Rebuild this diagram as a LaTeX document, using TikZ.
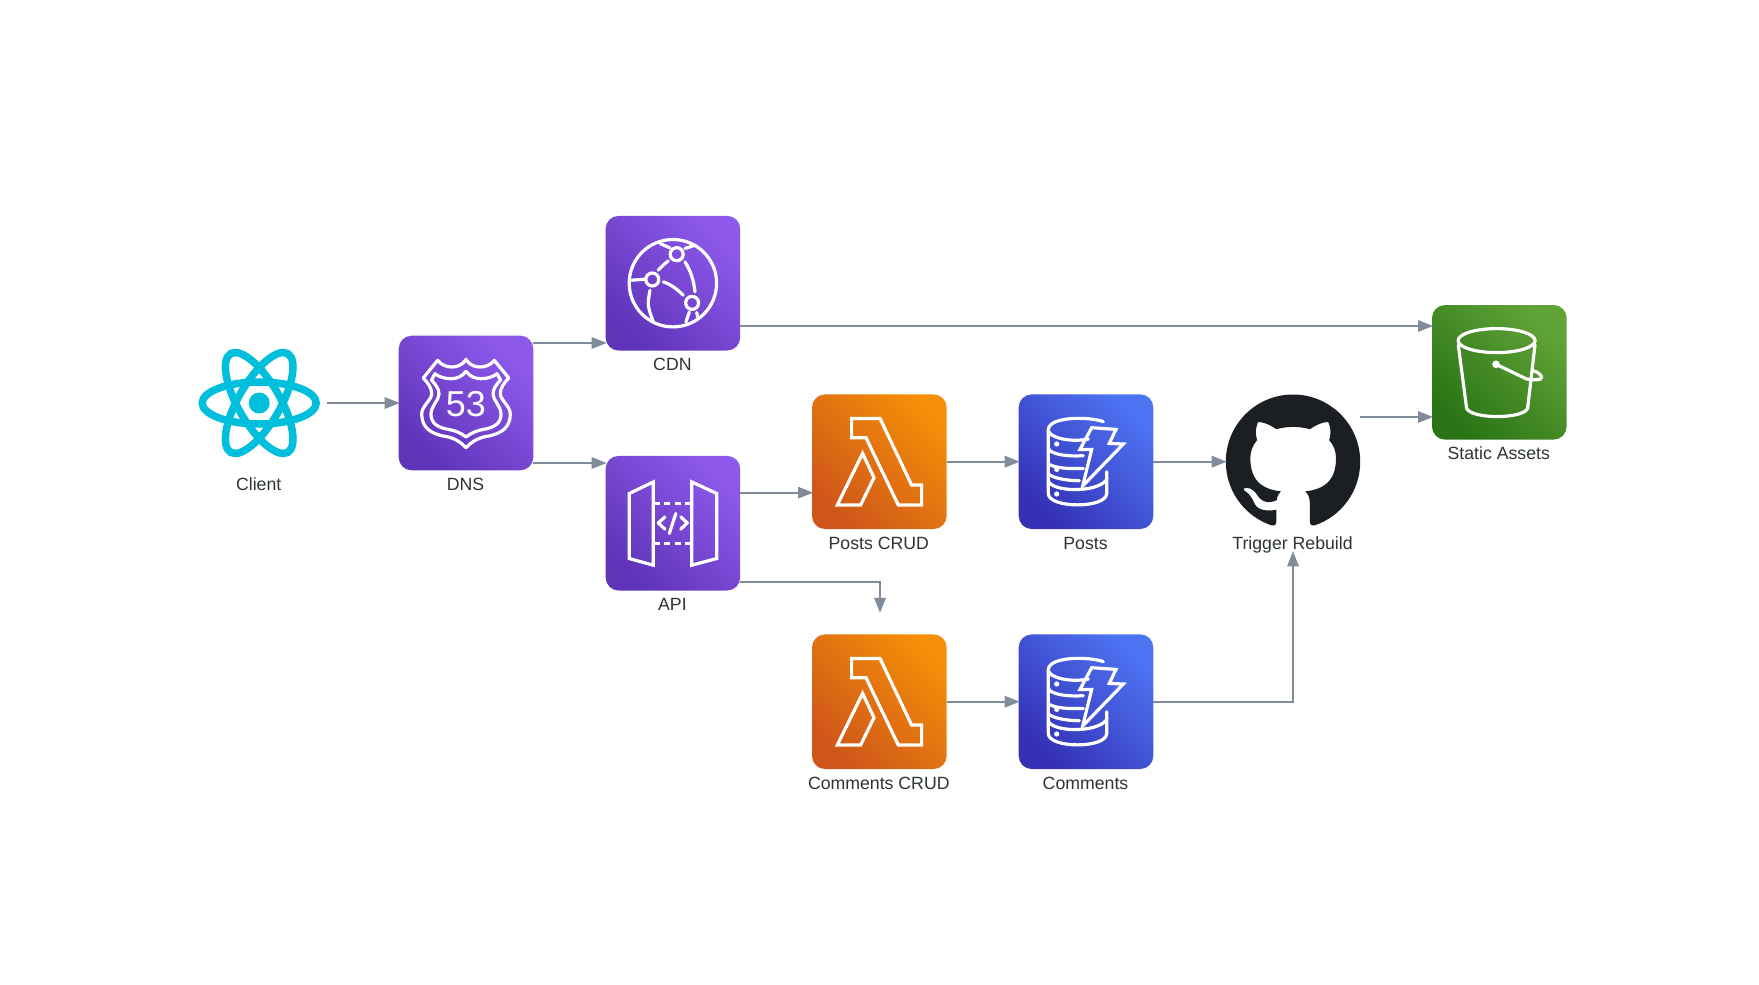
\documentclass[tikz,border=0pt]{standalone}
\usepackage{fontspec}
\setmainfont{Liberation Sans}
\usetikzlibrary{arrows.meta,calc}
\definecolor{purpled}{HTML}{5F34B9}\definecolor{purplel}{HTML}{8E59EB}
\definecolor{oranged}{HTML}{CE561A}\definecolor{orangel}{HTML}{F58E08}
\definecolor{blued}{HTML}{3530B5}\definecolor{bluel}{HTML}{4D74F3}
\definecolor{greend}{HTML}{2A7416}\definecolor{greenl}{HTML}{60A337}
\definecolor{wire}{HTML}{808C99}
\definecolor{labelc}{HTML}{2D3436}
\definecolor{ghdark}{HTML}{1B1F24}
\definecolor{reactc}{HTML}{00BFDC}
\tikzset{
  cell/.style={minimum size=134.6pt,inner sep=0pt,outer sep=0pt,draw=none},
  caption/.style={anchor=base,text=labelc,inner sep=0pt,xshift=-0.5pt,font=\fontsize{17.7pt}{20pt}\selectfont},
  wirearrow/.style={draw=wire,line width=1.6pt,shorten >=-1pt,-{Triangle[length=15pt,width=11.5pt]}},
  icon/.style={draw=white,line width=3.2pt,line join=round,line cap=round},
}
\newcommand{\tile}[5]{% name, center, dark, light, icon
  \node[cell] (#1) at (#2) {};
  \begin{scope}[shift={(#1.center)}]
    \shade[rounded corners=13pt,left color=#4,right color=#3,shading angle=-45]
      (-67.3,-67.3) rectangle (67.3,67.3);
    #5
  \end{scope}}
\newcommand{\iconlambda}{%
  \draw[icon,line join=miter] (-27.7,-43.3) -- (0.7,-43.3) -- (32.3,23.3) -- (42.3,23.3) -- (42.3,43.3) -- (19,43.3) -- (-13.3,-24) -- (-27.7,-24) -- cycle;
  \draw[icon,line join=miter] (-16.7,-8.3) -- (-5.3,16) -- (-18.7,43.3) -- (-42,43.3) -- cycle;}
\newcommand{\icondynamo}{%
  \draw[icon] (17.3,-40) .. controls (5,-45) and (-37.7,-46) .. (-37.7,-31.7) -- (-37.7,31.7) .. controls (-37.7,47) and (20.7,47) .. (20.7,31.7) -- (20.7,10);
  \draw[icon] (-37.7,-31.7) .. controls (-37.7,-24) and (-15,-19) .. (2.3,-22.7);
  \draw[icon] (-37.7,-13.3) .. controls (-35,-7) and (-18,-5) .. (-2.7,-6);
  \draw[icon] (-37.7,1.7) .. controls (-34,6) and (-18,7.5) .. (-2.7,6.7);
  \draw[icon] (-37.7,11.7) .. controls (-35,16) and (-20,19) .. (-6.7,19);
  \draw[icon] (-37.7,19) .. controls (-35,30) and (10,32) .. (20.7,18);
  \fill[white] (-29.3,-17.7) circle (2.6) (-29.3,7.7) circle (2.6) (-29.3,32.3) circle (2.6);
  \draw[icon,fill=none,line join=miter] (5.7,-34) -- (30,-32.3) -- (23.3,-18.3) -- (37.3,-17.7) -- (-3.3,24.3) -- (5.7,-12.3) -- (-6,-12.3) -- cycle;}
\begin{document}
\begin{tikzpicture}[x=1pt,y=-1pt]
\useasboundingbox (0,0) rectangle (1759,985);
\fill[white] (0,0) rectangle (1759,985);

% React
\node[cell] (client) at (259.2,403) {};
\begin{scope}[shift={(client.center)}]
  \foreach \a in {0,60,120}
    \draw[draw=reactc,line width=7.5pt,rotate=\a] (0,0) ellipse (57 and 21);
  \fill[reactc] (0,0) circle (10.5);
\end{scope}

% Route 53
\tile{dns}{466,403}{purpled}{purplel}{%
  \foreach \sx in {1,-1}{
    \draw[icon,xscale=\sx] (0,-43.7) .. controls (4,-37) and (10,-36) .. (14.3,-36) .. controls (19,-36) and (25,-38) .. (28.3,-42.7) -- (42.7,-25) .. controls (38,-20) and (34.3,-15) .. (34.3,-9.3) .. controls (34.3,-3) and (44.3,3) .. (44.3,11) .. controls (44.3,24) and (36,31) .. (20,33.5) .. controls (12,35) and (5,39) .. (0,44.7);
    \draw[icon,xscale=\sx] (0,-31.7) .. controls (4,-26) and (10,-24.3) .. (15,-24.3) .. controls (21,-24.3) and (27,-26) .. (31,-29.3) -- (34.5,-23) .. controls (30,-18) and (27,-14) .. (27,-9) .. controls (27,-3) and (35,3) .. (35,11) .. controls (35,20) and (29,24.5) .. (17,26.5) .. controls (11,27.5) and (5,30) .. (0,34);
  }
  \node[text=white,inner sep=0pt,font=\fontsize{36pt}{36pt}\selectfont] (shieldnum) at (0,1.5) {53};
}

% CloudFront
\tile{cdn}{672.9,283.2}{purpled}{purplel}{%
  \draw[icon] (0,0) circle (43.7);
  \draw[icon] (3.8,-29) circle (6.5) (-20.6,-3.7) circle (6.5) (19.2,19.7) circle (6.5);
  \draw[icon] (-12.9,-39.7) -- (-2.9,-35.3);
  \draw[icon] (12.1,-34.7) -- (22.1,-38);
  \draw[icon] (-41.2,-3) -- (-27.9,-4);
  \draw[icon] (-22.9,7) .. controls (-25.6,22) .. (-19.6,38.7);
  \draw[icon] (-9.6,-1.3) .. controls (-2,1) and (4,6) .. (10.4,12);
  \draw[icon] (12.1,-21.3) .. controls (18,-12) and (21,-2) .. (22.1,8.7);
  \draw[icon] (-4.6,-22.3) .. controls (-9,-19) and (-12,-16) .. (-14.6,-13);
  \draw[icon] (16.4,28.7) -- (13.1,38.7);
  \draw[icon] (23.8,29.3) -- (24.8,33.7);
}

% API Gateway
\tile{api}{672.9,523.2}{purpled}{purplel}{%
  \draw[icon,line join=miter] (-43.6,-29.7) -- (-19.6,-41.3) -- (-19.6,42) -- (-43.6,35.3) -- cycle;
  \draw[icon,line join=miter] (18.8,-41.3) -- (43.8,-29.7) -- (43.8,35.3) -- (18.8,42) -- cycle;
  \foreach \yy in {-19.7,20.3}{
    \draw[icon,line cap=butt] (-17.5,\yy) -- (-13,\yy) (-9,\yy) -- (-3,\yy) (2,\yy) -- (8,\yy) (12,\yy) -- (17.5,\yy);
  }
  \draw[icon] (-7.9,-6.3) -- (-14.6,-0.3) -- (-7.9,6);
  \draw[icon] (7.8,-6.3) -- (14.4,-0.3) -- (7.8,6);
  \draw[icon] (3,-9.7) -- (-3.6,10.3);
}

\tile{postsfn}{879.3,461.7}{oranged}{orangel}{\iconlambda}
\tile{commentsfn}{879.3,701.7}{oranged}{orangel}{\iconlambda}
\tile{postsdb}{1086,461.7}{blued}{bluel}{\icondynamo}
\tile{commentsdb}{1086,701.7}{blued}{bluel}{\icondynamo}

% GitHub
\node[cell] (gh) at (1293,461.7) {};
\begin{scope}[shift={(gh.center)},x=8.4pt,y=-8.4pt,shift={(-8,-8)}]
\fill[ghdark] (8,0) .. controls (3.58,0) and (0,3.58) .. (0,8)
 .. controls (0,11.54) and (2.29,14.53) .. (5.47,15.59)
 .. controls (5.87,15.66) and (6.02,15.42) .. (6.02,15.21)
 .. controls (6.02,15.02) and (6.01,14.39) .. (6.01,13.72)
 .. controls (4.00,14.09) and (3.48,13.23) .. (3.32,12.78)
 .. controls (3.23,12.55) and (2.84,11.84) .. (2.50,11.65)
 .. controls (2.22,11.50) and (1.82,11.13) .. (2.49,11.12)
 .. controls (3.12,11.11) and (3.57,11.70) .. (3.72,11.94)
 .. controls (4.44,13.15) and (5.59,12.81) .. (6.05,12.60)
 .. controls (6.12,12.08) and (6.33,11.73) .. (6.56,11.53)
 .. controls (4.78,11.33) and (2.92,10.64) .. (2.92,7.58)
 .. controls (2.92,6.71) and (3.23,5.99) .. (3.74,5.43)
 .. controls (3.66,5.23) and (3.38,4.41) .. (3.82,3.31)
 .. controls (3.82,3.31) and (4.49,3.10) .. (6.02,4.13)
 .. controls (6.66,3.95) and (7.34,3.86) .. (8.02,3.86)
 .. controls (8.70,3.86) and (9.38,3.95) .. (10.02,4.13)
 .. controls (11.55,3.09) and (12.22,3.31) .. (12.22,3.31)
 .. controls (12.66,4.41) and (12.38,5.23) .. (12.30,5.43)
 .. controls (12.81,5.99) and (13.12,6.70) .. (13.12,7.58)
 .. controls (13.12,10.65) and (11.25,11.33) .. (9.47,11.53)
 .. controls (9.76,11.78) and (10.01,12.26) .. (10.01,13.01)
 .. controls (10.01,14.08) and (10.00,14.94) .. (10.00,15.21)
 .. controls (10.00,15.42) and (10.15,15.67) .. (10.55,15.59)
 .. controls (13.73,14.53) and (16,11.53) .. (16,8)
 .. controls (16,3.58) and (12.42,0) .. (8,0) -- cycle;
\end{scope}

% S3
\tile{s3}{1499.3,372.3}{greend}{greenl}{%
  \draw[icon] (-2.7,-31.7) ellipse (38.5 and 12);
  \draw[icon] (-41,-27.3) -- (-32.7,36) .. controls (-28,47) and (24,47) .. (28.3,36) -- (35.7,-27.3);
  \fill[white] (-3.3,-8) circle (3.8);
  \draw[icon] (-3.3,-8) -- (27.3,6.7) .. controls (33,8) and (43,8) .. (42.3,5) .. controls (42,2) and (37,-1) .. (33.3,-1.7);
}

% labels
\node[caption] (clientl) at ($(client.south)+(0,20.3)$) {Client};
\node[caption] (dnsl) at ($(dns.south)+(0,20.3)$) {DNS};
\node[caption] (cdnl) at ($(cdn.south)+(0,20.3)$) {CDN};
\node[caption] (apil) at ($(api.south)+(0,20.3)$) {API};
\node[caption] (postsfnl) at ($(postsfn.south)+(0,20.3)$) {Posts CRUD};
\node[caption] (postsdbl) at ($(postsdb.south)+(0,20.3)$) {Posts};
\node[caption] (ghl) at ($(gh.south)+(0,20.3)$) {Trigger Rebuild};
\node[caption] (commentsfnl) at ($(commentsfn.south)+(0,20.3)$) {Comments CRUD};
\node[caption] (commentsdbl) at ($(commentsdb.south)+(0,20.3)$) {Comments};
\node[caption] (s3l) at ($(s3.south)+(0,20.3)$) {Static Assets};

% connectors
\draw[wirearrow] (client.east) -- (dns.west);
\draw[wirearrow] ([yshift=60pt]dns.east) -- ([yshift=-59.8pt]cdn.west);
\draw[wirearrow] ([yshift=-60pt]dns.east) -- ([yshift=60.2pt]api.west);
\draw[wirearrow] ([yshift=-42.8pt]cdn.east) -- ([yshift=46.3pt]s3.west);
\draw[wirearrow] ([yshift=30.5pt]api.east) -- ([yshift=-31pt]postsfn.west);
\draw[wirearrow] ([yshift=-58.8pt]api.east) -| ([yshift=22.6pt,xshift=0.7pt]commentsfn.north);
\draw[wirearrow] (postsfn.east) -- (postsdb.west);
\draw[wirearrow] (postsdb.east) -- (gh.west);
\draw[wirearrow] (commentsfn.east) -- (commentsdb.west);
\draw[wirearrow] (commentsdb.east) -| ([yshift=-23.3pt]gh.south);
\draw[wirearrow] ([yshift=44.7pt]gh.east) -- ([yshift=-44.7pt]s3.west);
\end{tikzpicture}
\end{document}
